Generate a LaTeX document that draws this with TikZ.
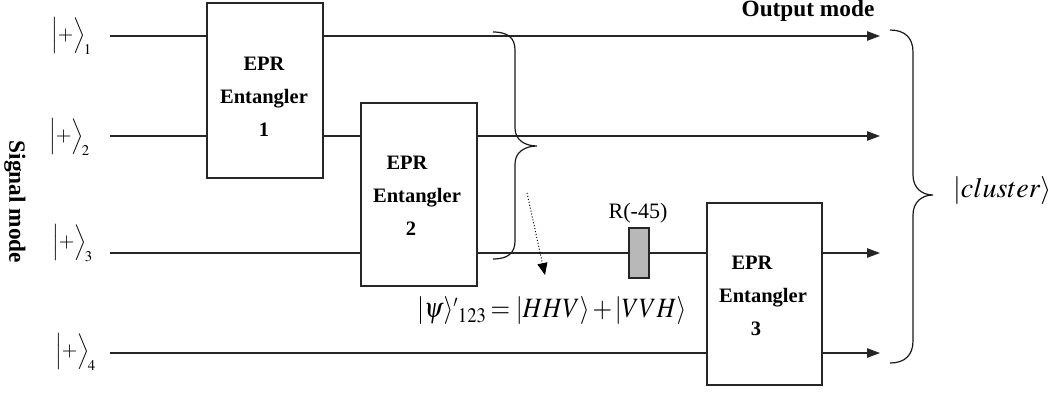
\documentclass[tikz,border=0pt]{standalone}
\usepackage{mathptmx}
\usepackage[no-math]{fontspec}
\setmainfont{Liberation Serif}
\usetikzlibrary{arrows.meta}
\begin{document}
\begin{tikzpicture}[x=1pt,y=-1pt,
  wire/.style={line width=1.1pt,draw=black!85},
  outwire/.style={wire,-{Triangle[length=13pt,width=9.5pt]}},
  ebox/.style={draw=black!85,line width=1.1pt,fill=white,inner sep=0pt},
  elabel/.style={font=\fontsize{20.5}{33}\selectfont\bfseries,align=center,inner sep=0pt},
  mlabel/.style={font=\fontsize{20}{24}\selectfont,inner sep=0pt},
  biglabel/.style={font=\fontsize{28}{32}\selectfont,inner sep=0pt},
  bigbold/.style={font=\fontsize{23.3}{26}\selectfont\bfseries,inner sep=0pt},
  brace/.style={line width=1.2pt,draw=black!90}]
\useasboundingbox (0,0) rectangle (1050,392);

% boxes
\node[ebox,minimum width=116pt,minimum height=175pt] (b1) at (265,90.5) {};
\node[ebox,minimum width=116pt,minimum height=183pt] (b2) at (419,194.5) {};
\node[ebox,minimum width=115pt,minimum height=182pt] (b3) at (764.5,294) {};
\node[elabel] (t1) at (264,97) {EPR\\Entangler\\1};
\node[elabel] (t2) at (411,196) {EPR\hspace*{8pt}\\\hspace*{12pt}Entangler\\2};
\node[elabel] (t3) at (756,296) {EPR\hspace*{8pt}\\\hspace*{14pt}Entangler\\3};

% rotator
\node[draw=black!85,line width=1.1pt,fill=black!28,minimum width=20pt,minimum height=50pt,inner sep=0pt] (rot) at (639,253) {};
\node[font=\fontsize{22}{24}\selectfont,inner sep=0pt] (rl) at (638,213) {R(-45)};

% end coordinates
\coordinate (i1) at (110,36);
\coordinate (i2) at (110,136);
\coordinate (i3) at (110,253);
\coordinate (i4) at (110,353);
\coordinate (o1) at (880,36);
\coordinate (o2) at (880,136);
\coordinate (o3) at (880,253);
\coordinate (o4) at (880,353);

% wires
\draw[wire] (i1) -- (i1 -| b1.west);
\draw[outwire] (i1 -| b1.east) -- (o1);
\draw[wire] (i2) -- (i2 -| b1.west);
\draw[wire] (i2 -| b1.east) -- (i2 -| b2.west);
\draw[outwire] (i2 -| b2.east) -- (o2);
\draw[wire] (i3) -- (i3 -| b2.west);
\draw[wire] (i3 -| b2.east) -- (rot.west);
\draw[wire] (rot.east) -- (i3 -| b3.west);
\draw[outwire] (i3 -| b3.east) -- (o3);
\draw[wire] (i4) -- (i4 -| b3.west);
\draw[outwire] (i4 -| b3.east) -- (o4);

% input labels
\node[mlabel,anchor=west] (l1) at (51,36) {$\Bigl|+\Bigr\rangle_{\!1}$};
\node[mlabel,anchor=west] (l2) at (49,137) {$\Bigl|+\Bigr\rangle_{\!2}$};
\node[mlabel,anchor=west] (l3) at (52,243) {$\Bigl|+\Bigr\rangle_{\!3}$};
\node[mlabel,anchor=west] (l4) at (55,352) {$\Bigl|+\Bigr\rangle_{\!4}$};

\node[bigbold,rotate=-90] (sig) at (15,202) {Signal mode};
\node[bigbold] (out) at (808,11) {Output mode};

% middle brace
\draw[brace] (493,32) .. controls (508,32) and (515,38) .. (515,50) -- (515,128)
  .. controls (515,140) and (525,146) .. (537,146)
  .. controls (525,146) and (515,152) .. (515,164) -- (515,241)
  .. controls (515,253) and (508,259) .. (493,259);

% big brace
\draw[brace] (890,30) .. controls (905,30) and (913,38) .. (913,52) -- (913,175)
  .. controls (913,188) and (922,195) .. (933,195)
  .. controls (922,195) and (913,202) .. (913,215) -- (913,341)
  .. controls (913,355) and (905,363) .. (890,363);

\node[biglabel,anchor=west] (cl) at (953,191) {$|cluster\rangle$};

% dotted arrow and state
\coordinate (da) at (527,193);
\coordinate (db) at (545,275);
\draw[line width=1pt,dotted,-{Triangle[length=12pt,width=10pt]}] (da) -- (db);
\node[biglabel,anchor=west] (eq) at (417,311)
  {\scalebox{0.9}[1]{$|\psi\rangle^{\scriptscriptstyle\prime}{}_{\mathrm{123}}\mkern3mu{=}\mkern4mu|HHV\rangle\mkern2mu{+}\mkern2mu|VVH\rangle$}};
\end{tikzpicture}
\end{document}
